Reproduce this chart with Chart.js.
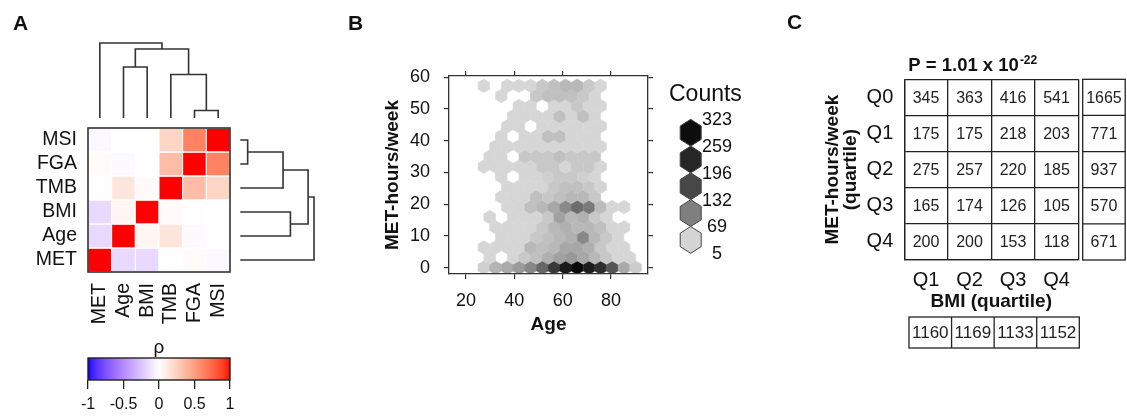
<!DOCTYPE html>
<html>
<head>
<meta charset="utf-8">
<title>Figure</title>
<script src="https://cdn.jsdelivr.net/npm/chart.js@4.4.1/dist/chart.umd.min.js"></script>
<style>
  html, body { margin:0; padding:0; background:#ffffff; }
  #fig { position:relative; width:1127px; height:417px; overflow:hidden; background:#ffffff; }
  #fig canvas { position:absolute; }
</style>
</head>
<body>
<div id="fig">
  <canvas id="heat" width="340" height="335" style="left:0;top:0;"></canvas>
  <canvas id="dendTop" width="340" height="335" style="left:0;top:0;"></canvas>
  <canvas id="dendRight" width="340" height="335" style="left:0;top:0;"></canvas>
  <canvas id="cbar" width="340" height="82" style="left:0;top:335px;"></canvas>
  <canvas id="hex" width="440" height="345" style="left:340px;top:0;"></canvas>
  <canvas id="tab" width="347" height="417" style="left:780px;top:0;"></canvas>
</div>
<script>
// ================= DATA =================
// Panel A: Spearman correlations (column order = varNames)
const varNames = ['MET','Age','BMI','TMB','FGA','MSI'];
const rhoMET = [1.00, -0.16, -0.16, -0.01, 0.02, -0.03];
const rhoAge = [-0.16, 1.00, 0.05, 0.13, -0.02, 0.00];
const rhoBMI = [-0.16, 0.05, 1.00, 0.02, -0.01, 0.00];
const rhoTMB = [-0.01, 0.13, 0.02, 1.00, 0.35, 0.22];
const rhoFGA = [0.02, -0.02, -0.01, 0.35, 1.00, 0.63];
const rhoMSI = [-0.03, 0.00, 0.00, 0.22, 0.63, 1.00];
const dendroMerges = [['FGA','MSI'], ['TMB','#1'], ['Age','BMI'], ['#3','#2'], ['MET','#4']];
const dendroHeights = [0.10, 0.58, 0.68, 0.92, 1.00];
const rhoTicks = [-1, -0.5, 0, 0.5, 1];

// Panel B: hexbin counts (age vs MET-hours/week)
const ageTicks = [20, 40, 60, 80];
const metTicks = [0, 10, 20, 30, 40, 50, 60];
const hexMet = [0, 3.18, 6.37, 9.55, 12.73, 15.92, 19.10, 22.28, 25.46, 28.65, 31.83, 35.01, 38.20, 41.38, 44.56, 47.75, 50.93, 54.11, 57.30];
const hexAgeEven = [27.4, 32.2, 37.1, 41.9, 46.7, 51.6, 56.4, 61.2, 66.0, 70.9, 75.7, 80.5, 85.4, 90.2];
const hexAgeOdd = [25.0, 29.8, 34.6, 39.5, 44.3, 49.1, 54.0, 58.8, 63.6, 68.5, 73.3, 78.1, 82.9, 87.8, 92.6];
const hexRow00 = [40, 61, 68, 80, 93, 128, 189, 258, 323, 253, 213, 147, 68, 43];
const hexRow01 = [0, 15, 0, 15, 46, 52, 64, 75, 81, 70, 58, 46, 15, 15, 0];
const hexRow02 = [15, 15, 15, 15, 58, 52, 58, 70, 70, 64, 46, 15, 15, 0];
const hexRow03 = [0, 0, 15, 15, 15, 46, 52, 58, 64, 93, 58, 46, 15, 0, 0];
const hexRow04 = [0, 15, 15, 15, 15, 46, 58, 64, 58, 58, 52, 15, 15, 0];
const hexRow05 = [0, 15, 0, 15, 15, 15, 46, 75, 58, 64, 46, 15, 0, 0, 0];
const hexRow06 = [0, 0, 15, 15, 52, 58, 70, 92, 122, 106, 55, 15, 15, 0];
const hexRow07 = [0, 0, 15, 15, 15, 52, 46, 52, 58, 58, 46, 0, 0, 0, 0];
const hexRow08 = [0, 0, 15, 15, 15, 30, 46, 52, 52, 46, 30, 0, 0, 0];
const hexRow09 = [0, 0, 15, 0, 15, 15, 40, 46, 46, 40, 15, 0, 0, 0, 0];
const hexRow10 = [15, 15, 15, 15, 15, 46, 46, 15, 46, 46, 15, 0, 0, 0];
const hexRow11 = [0, 15, 15, 0, 46, 46, 46, 52, 46, 46, 46, 0, 0, 0, 0];
const hexRow12 = [0, 15, 15, 15, 15, 15, 15, 15, 15, 15, 15, 0, 0, 0];
const hexRow13 = [0, 0, 15, 0, 15, 15, 52, 52, 15, 15, 15, 0, 0, 0, 0];
const hexRow14 = [0, 0, 15, 15, 0, 15, 15, 15, 15, 15, 15, 0, 0, 0];
const hexRow15 = [0, 0, 0, 15, 15, 15, 15, 52, 15, 52, 15, 0, 0, 0, 0];
const hexRow16 = [0, 0, 0, 15, 15, 0, 15, 15, 46, 15, 15, 0, 0, 0];
const hexRow17 = [0, 0, 15, 0, 0, 46, 52, 52, 52, 46, 15, 0, 0, 0, 0];
const hexRow18 = [15, 0, 15, 15, 15, 46, 52, 58, 58, 46, 15, 0, 0, 0];
const countBreaks = [323, 259, 196, 132, 69, 5];

// Panel C: contingency table
const bmiQuartiles = ['Q1','Q2','Q3','Q4'];
const metQuartiles = ['Q0','Q1','Q2','Q3','Q4'];
const tabQ0 = [345, 363, 416, 541];
const tabQ1 = [175, 175, 218, 203];
const tabQ2 = [275, 257, 220, 185];
const tabQ3 = [165, 174, 126, 105];
const tabQ4 = [200, 200, 153, 118];
const rowTotals = [1665, 771, 937, 570, 671];
const colTotals = [1160, 1169, 1133, 1152];
const pValueBase = 'P = 1.01 x 10';
const pValueExp = '-22';

// ================= HELPERS =================
const FONT = "'Liberation Sans', Arial, Helvetica, sans-serif";
Chart.defaults.font.family = FONT;
Chart.defaults.color = '#111';
const baseOpts = () => ({
  responsive: false, maintainAspectRatio: false, animation: false, events: [],
  plugins: { legend: { display: false }, tooltip: { enabled: false } }
});
function letterPlugin(letter, x, y) {
  return { id: 'letter' + letter, afterDraw(chart) {
    const c = chart.ctx; c.save(); c.font = `bold 21px ${FONT}`; c.fillStyle = '#111';
    c.textAlign = 'left'; c.textBaseline = 'alphabetic'; c.fillText(letter, x, y); c.restore(); } };
}
// Lab interpolation blue-white-red
function s2l(c){ c/=255; return c<=0.04045 ? c/12.92 : Math.pow((c+0.055)/1.055, 2.4); }
function l2s(c){ c = c<=0.0031308 ? 12.92*c : 1.055*Math.pow(c,1/2.4)-0.055; return Math.round(Math.max(0,Math.min(1,c))*255); }
function toLab(rgb){ const R=s2l(rgb[0]),G=s2l(rgb[1]),B=s2l(rgb[2]);
  const X=(0.4124*R+0.3576*G+0.1805*B)/0.95047, Y=0.2126*R+0.7152*G+0.0722*B, Z=(0.0193*R+0.1192*G+0.9505*B)/1.08883;
  const f=t=>t>0.008856?Math.cbrt(t):7.787*t+16/116; const fx=f(X),fy=f(Y),fz=f(Z);
  return [116*fy-16, 500*(fx-fy), 200*(fy-fz)]; }
function fromLab(lab){ const fy=(lab[0]+16)/116, fx=fy+lab[1]/500, fz=fy-lab[2]/200;
  const fi=t=>{const t3=t*t*t; return t3>0.008856?t3:(t-16/116)/7.787;};
  const X=fi(fx)*0.95047, Y=fi(fy), Z=fi(fz)*1.08883;
  const R=3.2406*X-1.5372*Y-0.4986*Z, G=-0.9689*X+1.8758*Y+0.0415*Z, B=0.0557*X-0.2040*Y+1.0570*Z;
  return `rgb(${l2s(R)},${l2s(G)},${l2s(B)})`; }
const LAB_BLUE = toLab([0,0,255]), LAB_WHITE = toLab([255,255,255]), LAB_RED = toLab([255,0,0]);
function rhoColor(v){ const t=Math.min(1,Math.abs(v)); const e = v<0 ? LAB_BLUE : LAB_RED;
  return fromLab(LAB_WHITE.map((w,i)=>w+(e[i]-w)*t)); }

// ================= PANEL A: heatmap =================
const rhoRows = [rhoMET, rhoAge, rhoBMI, rhoTMB, rhoFGA, rhoMSI];
const heatCells = [];
rhoRows.forEach((row, yi) => row.forEach((v, xi) => heatCells.push({ x: xi, y: yi, v: v })));
function cellRadius(chart){ const s = chart.scales.x; if (!s) return 10;
  return Math.abs(s.getPixelForValue(1) - s.getPixelForValue(0)) / Math.SQRT2; }
function idxAxis(pos, size, isX){
  const t = { callback: v => varNames[v], autoSkip: false, padding: 11, font: { size: 19.5 }, color: '#111' };
  if (isX) { t.minRotation = 90; t.maxRotation = 90; }
  return { type: 'linear', position: pos, min: -0.5, max: 5.5,
    afterBuildTicks: s => { s.ticks = varNames.map((_, i) => ({ value: i })); },
    ticks: t, grid: { display: false, drawTicks: false }, border: { display: false },
    afterFit: s => { if (isX) s.height = size; else s.width = size; } };
}
const boxPlugin = { id: 'box', afterDatasetsDraw(chart){ const {ctx, chartArea:a} = chart;
  ctx.save(); ctx.strokeStyle = '#333'; ctx.lineWidth = 1.6; ctx.strokeRect(a.left, a.top, a.width, a.height); ctx.restore(); } };
new Chart(document.getElementById('heat'), {
  type: 'scatter',
  data: { datasets: [{ data: heatCells, pointStyle: 'rect',
    pointRadius: ctx => cellRadius(ctx.chart), pointHoverRadius: ctx => cellRadius(ctx.chart),
    pointBackgroundColor: ctx => ctx.raw ? rhoColor(ctx.raw.v) : '#fff',
    pointBorderColor: '#ffffff', pointBorderWidth: 1 }] },
  options: Object.assign(baseOpts(), {
    layout: { padding: { left: 0, right: 110, top: 128, bottom: 0 } },
    scales: { x: idxAxis('bottom', 63, true), y: idxAxis('left', 88, false) } }),
  plugins: [boxPlugin, letterPlugin('A', 13, 30)]
});

// dendrograms
function dendroSets(horizontal){
  const pos = [], hts = [], sets = [];
  const res = n => n[0] === '#' ? { p: pos[+n.slice(1)-1], h: hts[+n.slice(1)-1] } : { p: varNames.indexOf(n), h: 0 };
  dendroMerges.forEach((m, i) => {
    const a = res(m[0]), b = res(m[1]), H = dendroHeights[i];
    const pts = [[a.p, a.h], [a.p, H], [b.p, H], [b.p, b.h]];
    sets.push({ data: pts.map(q => horizontal ? { x: q[1], y: q[0] } : { x: q[0], y: q[1] }),
      showLine: true, borderColor: '#333', borderWidth: 1.6, pointRadius: 0, clip: false,
      tension: 0, borderJoinStyle: 'miter', borderCapStyle: 'butt' });
    pos.push((a.p + b.p) / 2); hts.push(H);
  });
  return sets;
}
new Chart(document.getElementById('dendTop'), {
  type: 'scatter', data: { datasets: dendroSets(false) },
  options: Object.assign(baseOpts(), {
    layout: { padding: { left: 88, right: 110, top: 43, bottom: 217 } },
    scales: { x: { type: 'linear', display: false, min: -0.5, max: 5.5 }, y: { type: 'linear', display: false, min: 0, max: 1 } } })
});
new Chart(document.getElementById('dendRight'), {
  type: 'scatter', data: { datasets: dendroSets(true) },
  options: Object.assign(baseOpts(), {
    layout: { padding: { left: 240.3, right: 26, top: 128, bottom: 63 } },
    scales: { x: { type: 'linear', display: false, min: 0, max: 1 }, y: { type: 'linear', display: false, min: -0.5, max: 5.5 } } })
});

// colour bar
const gradPlugin = { id: 'grad', beforeDatasetsDraw(chart){
  const {ctx, chartArea:a, scales:{x}} = chart;
  const g = ctx.createLinearGradient(x.getPixelForValue(-1), 0, x.getPixelForValue(1), 0);
  for (let i = 0; i <= 40; i++) g.addColorStop(i/40, rhoColor(-1 + i/20));
  ctx.save(); ctx.fillStyle = g; ctx.fillRect(a.left, a.top, a.width, a.height);
  ctx.strokeStyle = '#222'; ctx.lineWidth = 1.4; ctx.strokeRect(a.left, a.top, a.width, a.height); ctx.restore(); } };
new Chart(document.getElementById('cbar'), {
  type: 'scatter', data: { datasets: [] },
  options: Object.assign(baseOpts(), {
    layout: { padding: { left: 88, right: 110, top: 0, bottom: 0 } },
    scales: {
      x: { type: 'linear', position: 'bottom', min: -1, max: 1,
        afterBuildTicks: s => { s.ticks = rhoTicks.map(v => ({ value: v })); },
        ticks: { font: { size: 16 }, padding: 6, color: '#111', callback: v => String(v) },
        grid: { drawOnChartArea: false, drawTicks: true, tickLength: 9, color: '#222', lineWidth: 1.3 },
        border: { display: false }, afterFit: s => { s.height = 37; } },
      xTop: { type: 'linear', position: 'top', min: -1, max: 1, ticks: { display: false },
        grid: { display: false, drawTicks: false }, border: { display: false },
        title: { display: true, text: 'ρ', font: { size: 19 }, color: '#111', padding: { top: 1, bottom: 0 } },
        afterFit: s => { s.height = 23; } },
      y: { type: 'linear', display: false, min: 0, max: 1 } } }),
  plugins: [gradPlugin]
});

// ================= PANEL B: hexbin =================
const hexRows = [hexRow00, hexRow01, hexRow02, hexRow03, hexRow04, hexRow05, hexRow06, hexRow07, hexRow08, hexRow09,
  hexRow10, hexRow11, hexRow12, hexRow13, hexRow14, hexRow15, hexRow16, hexRow17, hexRow18];
const hexPoints = [];
hexRows.forEach((row, k) => { const ages = (k % 2 === 0) ? hexAgeEven : hexAgeOdd;
  row.forEach((c, i) => { if (c > 0) hexPoints.push({ x: ages[i], y: hexMet[k], c: c }); }); });
const rampCounts = [5, 37, 100, 164, 228, 291, 323];
const rampGrays = [215, 212, 127, 71, 38, 13, 8];
function countColor(c){
  let g = rampGrays[rampGrays.length - 1];
  for (let i = 0; i < rampCounts.length - 1; i++) {
    if (c <= rampCounts[i+1]) { const t = Math.max(0, (c - rampCounts[i]) / (rampCounts[i+1] - rampCounts[i]));
      g = rampGrays[i] + (rampGrays[i+1] - rampGrays[i]) * t; break; } }
  g = Math.round(g); return `rgb(${g},${g},${g})`;
}
function hexPath(ctx, x, y, hx, ry){
  ctx.beginPath(); ctx.moveTo(x, y - ry); ctx.lineTo(x + hx, y - ry/2); ctx.lineTo(x + hx, y + ry/2);
  ctx.lineTo(x, y + ry); ctx.lineTo(x - hx, y + ry/2); ctx.lineTo(x - hx, y - ry/2); ctx.closePath();
}
const hexPlugin = { id: 'hexbins', afterDatasetsDraw(chart){
  const {ctx, chartArea:a, scales} = chart; const xs = scales.x, ys = scales.y;
  const hx = (xs.getPixelForValue(hexAgeEven[1]) - xs.getPixelForValue(hexAgeEven[0])) / 2;
  const ry = (ys.getPixelForValue(hexMet[0]) - ys.getPixelForValue(hexMet[1])) * 2 / 3;
  const meta = chart.getDatasetMeta(0);
  ctx.save(); ctx.beginPath(); ctx.rect(a.left, a.top, a.width, a.height); ctx.clip();
  meta.data.forEach((el, i) => { const col = countColor(hexPoints[i].c);
    hexPath(ctx, el.x, el.y, hx, ry); ctx.fillStyle = col; ctx.fill(); ctx.strokeStyle = col; ctx.lineWidth = 0.6; ctx.stroke(); });
  ctx.restore(); } };
const legendPlugin = { id: 'countsLegend', afterDraw(chart){
  const ctx = chart.ctx; ctx.save(); ctx.fillStyle = '#111';
  ctx.font = `23px ${FONT}`; ctx.textAlign = 'left'; ctx.textBaseline = 'middle'; ctx.fillText('Counts', 329, 95);
  const cx = 350.7, y0 = 119.3, step = 26.8, hx = 10.5;
  for (let i = 0; i < countBreaks.length - 1; i++) {
    const cy = y0 + step * (i + 0.5); hexPath(ctx, cx, cy, hx, step / 2);
    ctx.fillStyle = countColor((countBreaks[i] + countBreaks[i+1]) / 2); ctx.fill();
    ctx.strokeStyle = '#444'; ctx.lineWidth = 1; ctx.stroke(); }
  ctx.fillStyle = '#111'; ctx.font = `18px ${FONT}`; ctx.textAlign = 'center';
  countBreaks.forEach((b, i) => ctx.fillText(String(b), 377, y0 + step * i + 1));
  ctx.restore(); } };
const bAxisLine = { display: true, color: '#333', width: 1.3, z: 1 };
const bTicks = () => ({ drawOnChartArea: false, drawTicks: true, tickLength: 5, color: '#333', lineWidth: 1.2 });
const AGE_MIN = 12.97, AGE_MAX = 95.3, MET_MIN = -2, MET_MAX = 60.4;
new Chart(document.getElementById('hex'), {
  type: 'scatter',
  data: { datasets: [{ data: hexPoints, pointRadius: 0, pointHoverRadius: 0 }] },
  options: Object.assign(baseOpts(), {
    layout: { padding: 0 },
    scales: {
      x: { type: 'linear', position: 'bottom', min: AGE_MIN, max: AGE_MAX,
        afterBuildTicks: s => { s.ticks = ageTicks.map(v => ({ value: v })); },
        ticks: { font: { size: 18 }, padding: 11, color: '#111' }, grid: bTicks(), border: bAxisLine,
        title: { display: true, text: 'Age', color: '#111', font: { size: 19, weight: 'bold' }, padding: { top: 0, bottom: 8.6 } },
        afterFit: s => { s.height = 71; } },
      x2: { type: 'linear', position: 'top', min: AGE_MIN, max: AGE_MAX,
        afterBuildTicks: s => { s.ticks = ageTicks.map(v => ({ value: v })); },
        ticks: { display: false }, grid: bTicks(), border: bAxisLine, afterFit: s => { s.height = 76; } },
      y: { type: 'linear', position: 'left', min: MET_MIN, max: MET_MAX,
        afterBuildTicks: s => { s.ticks = metTicks.map(v => ({ value: v })); },
        ticks: { font: { size: 18 }, padding: 14, color: '#111' }, grid: bTicks(), border: bAxisLine,
        title: { display: true, text: 'MET-hours/week', color: '#111', font: { size: 19, weight: 'bold' }, padding: { top: 41.6, bottom: 0 } },
        afterFit: s => { s.width = 109; } },
      y2: { type: 'linear', position: 'right', min: MET_MIN, max: MET_MAX,
        afterBuildTicks: s => { s.ticks = metTicks.map(v => ({ value: v })); },
        ticks: { display: false }, grid: bTicks(), border: bAxisLine, afterFit: s => { s.width = 132; } } } }),
  plugins: [hexPlugin, legendPlugin, letterPlugin('B', 8, 30)]
});

// ================= PANEL C: table =================
const tabRows = [tabQ0, tabQ1, tabQ2, tabQ3, tabQ4];
const tabCells = [];
tabRows.forEach((row, r) => row.forEach((v, c) => tabCells.push({ x: bmiQuartiles[c], y: metQuartiles[r], v: v })));
const LINE = '#222';
const tablePlugin = { id: 'tableText', afterDatasetsDraw(chart){
  const {ctx, chartArea:a, scales} = chart; const xs = scales.x, ys = scales.y;
  const meta = chart.getDatasetMeta(0);
  ctx.save(); ctx.fillStyle = '#222'; ctx.textAlign = 'center'; ctx.textBaseline = 'middle';
  ctx.font = `16px ${FONT}`;
  meta.data.forEach((el, i) => ctx.fillText(String(tabCells[i].v), el.x, el.y + 1));
  // row totals column
  const colW = xs.getPixelForValue(1) - xs.getPixelForValue(0);
  const rowH = ys.getPixelForValue(1) - ys.getPixelForValue(0);
  const tx0 = a.right + 4.4, tx1 = tx0 + colW - 1;
  ctx.strokeStyle = LINE; ctx.lineWidth = 1.3;
  ctx.strokeRect(tx0, a.top, tx1 - tx0, a.height);
  rowTotals.forEach((v, r) => { const cy = ys.getPixelForValue(r);
    if (r > 0) { ctx.beginPath(); ctx.moveTo(tx0, cy - rowH/2); ctx.lineTo(tx1, cy - rowH/2); ctx.stroke(); }
    ctx.fillText(String(v), (tx0 + tx1) / 2, cy + 1); });
  // column totals row
  const bx0 = a.left + 4.7, bx1 = a.right + 1, bw = (bx1 - bx0) / colTotals.length;
  const by0 = a.bottom + 57, by1 = by0 + 31;
  ctx.strokeRect(bx0, by0, bx1 - bx0, by1 - by0);
  ctx.font = `17px ${FONT}`;
  colTotals.forEach((v, c) => { const x0 = bx0 + c * bw;
    if (c > 0) { ctx.beginPath(); ctx.moveTo(x0, by0); ctx.lineTo(x0, by1); ctx.stroke(); }
    ctx.fillText(String(v), x0 + bw / 2, (by0 + by1) / 2 + 1); });
  // P value heading
  ctx.textAlign = 'left'; ctx.textBaseline = 'alphabetic'; ctx.fillStyle = '#111';
  ctx.font = `bold 18.5px ${FONT}`; ctx.fillText(pValueBase, 128.3, 71);
  const w = ctx.measureText(pValueBase).width;
  ctx.font = `bold 12px ${FONT}`; ctx.fillText(pValueExp, 128.3 + w + 1, 64);
  ctx.restore(); } };
const tGrid = { offset: true, display: true, drawOnChartArea: true, drawTicks: false, color: LINE, lineWidth: 1.3 };
new Chart(document.getElementById('tab'), {
  type: 'scatter',
  data: { datasets: [{ data: tabCells, pointRadius: 0, pointHoverRadius: 0 }] },
  options: Object.assign(baseOpts(), {
    layout: { padding: { left: 0, right: 48.7, top: 79.3, bottom: 103.9 } },
    scales: {
      x: { type: 'category', labels: bmiQuartiles, offset: true, position: 'bottom',
        grid: tGrid, border: { display: true, color: LINE, width: 1.3 },
        ticks: { font: { size: 20 }, padding: 8, color: '#111' },
        title: { display: true, text: 'BMI (quartile)', color: '#111', font: { size: 19, weight: 'bold' }, padding: { top: 0, bottom: 0 } },
        afterFit: s => { s.height = 53.1; } },
      y: { type: 'category', labels: metQuartiles, offset: true, position: 'left',
        grid: tGrid, border: { display: true, color: LINE, width: 1.3 },
        ticks: { font: { size: 20 }, padding: 11, color: '#111' },
        title: { display: true, text: ['MET-hours/week', '(quartile)'], color: '#111',
          font: { size: 19, weight: 'bold', lineHeight: 0.95 }, padding: { top: 44, bottom: 0 } },
        afterFit: s => { s.width = 124.3; } } } }),
  plugins: [tablePlugin, letterPlugin('C', 7, 29)]
});
</script>
</body>
</html>
